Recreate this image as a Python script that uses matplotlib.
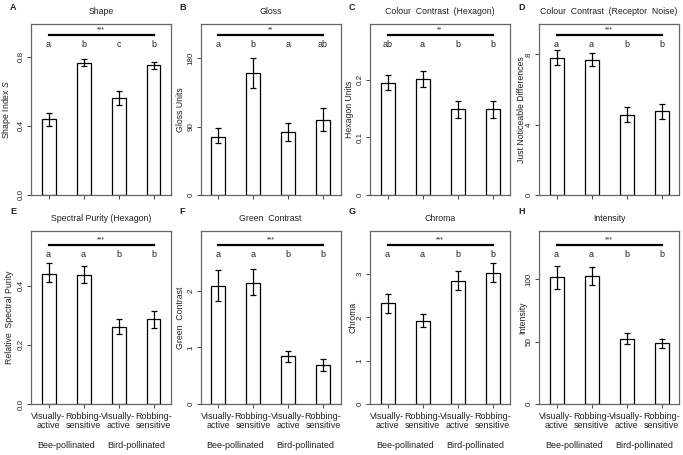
import matplotlib
matplotlib.use("Agg")
import matplotlib.pyplot as plt
import matplotlib.transforms as mtransforms
import numpy as np

plt.rcParams['font.family'] = ['Liberation Sans', 'DejaVu Sans']
plt.rcParams['mathtext.fontset'] = 'custom'
plt.rcParams['mathtext.rm'] = 'Liberation Sans'
plt.rcParams['mathtext.it'] = 'Liberation Sans:italic'

groups = ["Visually-\nactive", "Robbing-\nsensitive", "Visually-\nactive", "Robbing-\nsensitive"]
pollinators = ["Bee-pollinated", "Bird-pollinated"]

panel_letters = ["A", "B", "C", "D", "E", "F", "G", "H"]
titles = ["Shape", "Gloss", "Colour  Contrast  (Hexagon)", "Colour  Contrast  (Receptor  Noise)",
          "Spectral Purity (Hexagon)", "Green  Contrast", "Chroma", "Intensity"]
ylabels = ["Shape Index $\\mathit{S}$", "Gloss Units", "Hexagon Units", "Just Noticeable Differences",
           "Relative  Spectral Purity", "Green  Contrast", "Chroma", "Intensity"]
stars = ["***", "**", "**", "***", "***", "***", "***", "***"]
letters = [["a", "b", "c", "b"], ["a", "b", "a", "ab"], ["ab", "a", "b", "b"], ["a", "a", "b", "b"],
           ["a", "a", "b", "b"], ["a", "a", "b", "b"], ["a", "a", "b", "b"], ["a", "a", "b", "b"]]

shape_mean = [0.439, 0.765, 0.560, 0.750]
shape_lo = [0.400, 0.744, 0.522, 0.730]
shape_hi = [0.477, 0.786, 0.603, 0.771]

gloss_mean = [76.8, 160.2, 82.5, 98.8]
gloss_lo = [68.0, 140.5, 71.6, 84.3]
gloss_hi = [87.8, 180.0, 95.3, 114.0]

hex_mean = [0.195, 0.201, 0.149, 0.149]
hex_lo = [0.182, 0.187, 0.133, 0.133]
hex_hi = [0.208, 0.215, 0.163, 0.163]

jnd_mean = [7.77, 7.68, 4.57, 4.75]
jnd_lo = [7.40, 7.34, 4.15, 4.32]
jnd_hi = [8.26, 8.09, 4.98, 5.20]

purity_mean = [0.441, 0.436, 0.260, 0.288]
purity_lo = [0.411, 0.409, 0.236, 0.258]
purity_hi = [0.476, 0.465, 0.288, 0.315]

green_mean = [2.08, 2.13, 0.84, 0.68]
green_lo = [1.81, 1.92, 0.74, 0.59]
green_hi = [2.36, 2.38, 0.94, 0.79]

chroma_mean = [2.33, 1.92, 2.84, 3.02]
chroma_lo = [2.10, 1.77, 2.62, 2.81]
chroma_hi = [2.53, 2.08, 3.06, 3.25]

intensity_mean = [101.3, 102.7, 52.0, 49.1]
intensity_lo = [92.0, 95.2, 47.7, 45.1]
intensity_hi = [110.6, 109.5, 56.8, 52.3]

means = [shape_mean, gloss_mean, hex_mean, jnd_mean, purity_mean, green_mean, chroma_mean, intensity_mean]
los = [shape_lo, gloss_lo, hex_lo, jnd_lo, purity_lo, green_lo, chroma_lo, intensity_lo]
his = [shape_hi, gloss_hi, hex_hi, jnd_hi, purity_hi, green_hi, chroma_hi, intensity_hi]
ytops = [0.99, 225, 0.297, 9.72, 0.585, 3.05, 3.99, 138.5]
yticks = [[0.0, 0.4, 0.8], [0, 90, 180], [0, 0.1, 0.2], [0, 4, 8],
          [0.0, 0.2, 0.4], [0, 1, 2], [0, 1, 2, 3], [0, 50, 100]]
yticklabels = [["0.0", "0.4", "0.8"], ["0", "90", "180"], ["0", "0.1", "0.2"], ["0", "4", "8"],
               ["0.0", "0.2", "0.4"], ["0", "1", "2"], ["0", "1", "2", "3"], ["0", "50", "100"]]
ylabel_dist = [24, 20, 20, 17, 21, 20.5, 17, 16]

W, H = 683, 455
fig = plt.figure(figsize=(W / 100, H / 100), dpi=100)

lefts = [31, 200.5, 370, 539]
aw = 140
rows = [(24, 195), (231, 404)]
txt = '#222222'
boxc = '#666666'
fs = 6.3

x = np.arange(1, 5)
for i in range(8):
    r, c = divmod(i, 4)
    top, bot = rows[r]
    ah = bot - top
    ax = fig.add_axes([lefts[c] / W, 1 - bot / H, aw / W, ah / H])
    m = np.array(means[i]); lo = np.array(los[i]); hi = np.array(his[i])
    ax.bar(x, m, width=0.4, color='white', edgecolor='black', linewidth=0.9, zorder=2)
    ax.errorbar(x, m, yerr=[m - lo, hi - m], fmt='none', ecolor='black', elinewidth=0.9,
                capsize=2.3, capthick=0.9, zorder=3)
    ax.set_xlim(0.5, 4.5)
    ax.set_ylim(0, ytops[i])
    ax.set_yticks(yticks[i])
    ax.set_yticklabels(yticklabels[i], rotation=90, va='center', fontsize=5.8, color=txt)
    ax.set_xticks(x)
    if r == 1:
        ax.set_xticklabels(groups, fontsize=6.5, color=txt, linespacing=1.05)
    else:
        ax.set_xticklabels([])
    ax.tick_params(axis='y', length=3, width=0.7, color='#444444', pad=1.5)
    ax.tick_params(axis='x', length=3, width=0.7, color='#444444', pad=2.5)
    for s in ax.spines.values():
        s.set_color(boxc)
        s.set_linewidth(0.9)
    ax.set_ylabel(ylabels[i], fontsize=fs, color=txt)
    ax.yaxis.set_label_coords(-ylabel_dist[i] / aw, 0.5)
    ax.yaxis.label.set_va('center')
    ax.text(0.5, 1 + 12.5 / ah, titles[i], transform=ax.transAxes, ha='center', va='center',
            fontsize=fs, color=txt)
    trans = mtransforms.blended_transform_factory(ax.transData, ax.transAxes)
    ly = 0.936 if r == 0 else 0.919
    ax.plot([1, 4], [ly, ly], color='black', linewidth=1.6, transform=trans, clip_on=False)
    ax.text(2.5, ly + 0.012, stars[i], transform=trans, ha='center', va='bottom', fontsize=5, color=txt)
    for j in range(4):
        ax.text(x[j], ly - 0.055, letters[i][j], transform=trans, ha='center', va='center',
                fontsize=6.5, color=txt)
    lx = lefts[c] - 21
    ly_px = 7 if r == 0 else 211
    fig.text(lx / W, 1 - ly_px / H, panel_letters[i], fontsize=6.5, fontweight='bold',
             color=txt, ha='left', va='center')
    if r == 1:
        for k, name in enumerate(pollinators):
            ax.text(1.5 + 2 * k, -42 / ah, name, transform=trans, ha='center', va='center',
                    fontsize=6.5, color=txt)

fig.savefig("out.png", dpi=100)
